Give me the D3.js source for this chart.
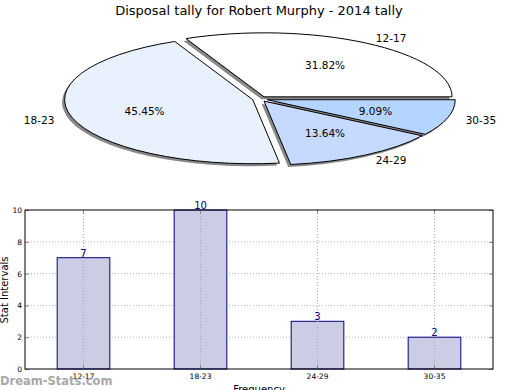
<!DOCTYPE html>
<html><head><meta charset="utf-8">
<script src="https://cdn.jsdelivr.net/npm/d3@7"></script>
<style>body{margin:0;background:#fff}svg{display:block}text{font-family:"DejaVu Sans",sans-serif}</style>
</head><body>
<svg id="c" width="520" height="390"></svg>
<script>
const title = "Disposal tally for Robert Murphy - 2014 tally";
const categories = ["12-17","18-23","24-29","30-35"];
const values = [7,10,3,2];
const pieColors = ["#ffffff","#eaf1fe","#c6d9fe","#b3d5ff"];
const yTicks = [0,2,4,6,8,10];

const svg = d3.select("#c");
svg.append("text").attr("x",259).attr("y",15).attr("text-anchor","middle")
  .attr("font-size",13).text(title);

// ---- Pie ----
const cx=260, cy=99, rx=188, ry=64, expl=0.04;
const total = d3.sum(values);
const arcs = d3.pie().sort(null).startAngle(Math.PI/2).endAngle(Math.PI/2-2*Math.PI)(values);
const arcGen = d3.arc().innerRadius(0).outerRadius(1);
const pg = svg.append("g");
// shadows
arcs.forEach((a,i)=>{
  const m=(a.startAngle+a.endAngle)/2;
  const ox=cx+expl*rx*Math.sin(m), oy=cy-expl*ry*Math.cos(m);
  pg.append("path").attr("d",arcGen(a))
    .attr("transform",`translate(${ox-2.5},${oy+2.5}) scale(${rx},${ry})`)
    .attr("fill","#888").attr("stroke","none");
});
arcs.forEach((a,i)=>{
  const m=(a.startAngle+a.endAngle)/2;
  const ox=cx+expl*rx*Math.sin(m), oy=cy-expl*ry*Math.cos(m);
  pg.append("path").attr("d",arcGen(a))
    .attr("transform",`translate(${ox},${oy}) scale(${rx},${ry})`)
    .attr("fill",pieColors[i]).attr("stroke","#000").attr("stroke-width",1)
    .attr("vector-effect","non-scaling-stroke").attr("stroke-linejoin","round");
});
arcs.forEach((a,i)=>{
  const m=(a.startAngle+a.endAngle)/2;
  const s=Math.sin(m), c=Math.cos(m);
  const ox=cx+expl*rx*s, oy=cy-expl*ry*c;
  pg.append("text").attr("x",ox+1.1*rx*s).attr("y",oy-1.1*ry*c)
    .attr("text-anchor", s>0?"start":"end").attr("dominant-baseline","central")
    .attr("font-size",10.5).text(categories[i]);
  pg.append("text").attr("x",ox+0.6*rx*s).attr("y",oy-0.6*ry*c)
    .attr("text-anchor","middle").attr("dominant-baseline","central")
    .attr("font-size",10.5).text((values[i]/total*100).toFixed(2)+"%");
});

// ---- Bars ----
const L=25, R=493, T=210, B=369;
const x = d3.scaleBand().domain(categories).range([L,R]).paddingInner(0.55).paddingOuter(0.275);
const y = d3.scaleLinear().domain([0,10]).range([B,T]);
const bg = svg.append("g");
// grid
bg.selectAll(".gy").data(yTicks.slice(1,-1)).enter().append("line")
  .attr("x1",L).attr("x2",R).attr("y1",d=>y(d)).attr("y2",d=>y(d))
  .attr("stroke","#b8b8b8").attr("stroke-dasharray","1,2");
bg.selectAll(".gx").data(categories).enter().append("line")
  .attr("x1",d=>x(d)+x.bandwidth()/2).attr("x2",d=>x(d)+x.bandwidth()/2).attr("y1",T).attr("y2",B)
  .attr("stroke","#b8b8b8").attr("stroke-dasharray","1,2");
bg.selectAll("rect.bar").data(values).enter().append("rect")
  .attr("x",(d,i)=>x(categories[i])).attr("width",x.bandwidth())
  .attr("y",d=>y(d)).attr("height",d=>B-y(d))
  .attr("fill","#ccccE4").attr("stroke","#000080").attr("stroke-width",1);
// redraw vertical grid over bars
bg.selectAll(".gx2").data(categories).enter().append("line")
  .attr("x1",d=>x(d)+x.bandwidth()/2).attr("x2",d=>x(d)+x.bandwidth()/2).attr("y1",T).attr("y2",B)
  .attr("stroke","#a8a8b8").attr("stroke-dasharray","1,2");
bg.selectAll("text.v").data(values).enter().append("text")
  .attr("x",(d,i)=>x(categories[i])+x.bandwidth()/2).attr("y",d=>y(d)-1)
  .attr("text-anchor","middle").attr("font-size",10).attr("fill","#000080").text(d=>d);
// axes
const ya = d3.axisLeft(y).tickValues(yTicks).tickSize(-4).tickPadding(3);
const yg = bg.append("g").attr("transform",`translate(${L},0)`).call(ya);
yg.select(".domain").remove();
yg.selectAll("text").attr("font-size",7.5);
yg.selectAll("line").attr("stroke","#888");
const yr = bg.append("g").attr("transform",`translate(${R},0)`).call(d3.axisRight(y).tickValues(yTicks).tickSize(-4).tickFormat(""));
yr.select(".domain").remove(); yr.selectAll("line").attr("stroke","#888");
const xa = d3.axisBottom(x).tickSize(-4).tickPadding(5);
const xg = bg.append("g").attr("transform",`translate(0,${B})`).call(xa);
xg.select(".domain").remove();
xg.selectAll("text").attr("font-size",7.5);
xg.selectAll("line").attr("stroke","#888");
const xt = bg.append("g").attr("transform",`translate(0,${T})`).call(d3.axisTop(x).tickSize(-4).tickFormat(""));
xt.select(".domain").remove(); xt.selectAll("line").attr("stroke","#888");
bg.append("rect").attr("x",L).attr("y",T).attr("width",R-L).attr("height",B-T)
  .attr("fill","none").attr("stroke","#000").attr("stroke-width",1);
svg.append("text").attr("transform","translate(8,290) rotate(-90)").attr("text-anchor","middle")
  .attr("font-size",10).text("Stat Intervals");
svg.append("text").attr("x",259).attr("y",393).attr("text-anchor","middle")
  .attr("font-size",10).text("Frequency");
svg.append("text").attr("x",0).attr("y",385).attr("font-size",11.5).attr("font-weight","bold")
  .attr("fill","#999").attr("opacity",0.85).text("Dream-Stats.com");
</script>
</body></html>
